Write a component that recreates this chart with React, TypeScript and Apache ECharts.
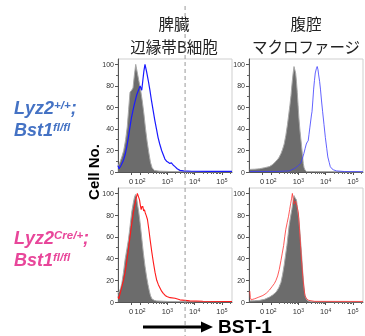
import React, { useEffect, useRef } from 'react';
import * as echarts from 'echarts';

// x values are in logicle display units (10^2 -> 2, 10^3 -> 3 ...), y = % of max
const xTickValues = [1.67, 2, 3, 4, 5];
const xTickLabels = ['0', '10^2', '10^3', '10^4', '10^5'];
const yTickValues = [0, 20, 40, 60, 80, 100];
const yMinorTicks = [10, 30, 50, 70, 90];
const gateValue = 3.65;

const spleenControl = [[1.19,5],[1.26,9],[1.33,14],[1.40,20],[1.47,30],[1.53,42],[1.58,58],[1.63,74],[1.69,76],[1.74,78],[1.79,90],[1.84,100],[1.90,92],[1.96,84],[2.02,76],[2.08,66],[2.14,54],[2.20,40],[2.26,28],[2.32,18],[2.38,9],[2.44,4],[2.52,1.5],[2.7,0.8],[3.2,0.4],[4.0,0.2],[5.37,0.2]];
const spleenWT = [[1.19,6],[1.23,3],[1.30,6],[1.39,11],[1.45,16],[1.51,23],[1.57,32],[1.63,42],[1.68,50],[1.73,56],[1.78,62],[1.83,67],[1.88,72],[1.94,76],[2.00,80],[2.06,76],[2.10,85],[2.14,94],[2.18,100],[2.24,93],[2.30,85],[2.36,76],[2.42,66],[2.48,57],[2.54,48],[2.60,40],[2.66,32],[2.72,26],[2.79,20],[2.85,16],[2.91,12],[2.97,10],[3.03,9],[3.09,8],[3.15,8.5],[3.21,6.5],[3.28,5],[3.36,3],[3.46,1.5],[3.6,1],[3.9,0.7],[4.5,0.5],[5.37,0.5]];
const peritonealControl = [[1.22,2.4],[1.40,2.6],[1.58,3],[1.76,4],[1.94,5],[2.06,7],[2.18,10],[2.28,13],[2.36,17],[2.42,21],[2.48,26],[2.54,34],[2.60,44],[2.65,54],[2.69,62],[2.73,71],[2.76,80],[2.80,90],[2.84,98],[2.87,95],[2.90,92],[2.93,84],[2.96,74],[2.99,62],[3.02,50],[3.06,38],[3.11,26],[3.15,16],[3.18,8],[3.21,4],[3.24,2],[3.30,0.5],[5.37,0]];
const peritonealWT = [[1.22,0.5],[2.2,0.5],[2.5,0.8],[2.66,1],[2.80,2.5],[2.90,4],[3.00,6],[3.08,8],[3.14,12],[3.20,17],[3.25,22],[3.29,26],[3.33,28],[3.36,29],[3.39,35],[3.42,41],[3.48,53],[3.50,56],[3.53,66],[3.56,77],[3.59,85],[3.62,92],[3.66,96],[3.69,98],[3.72,95],[3.74,91],[3.78,84],[3.81,77],[3.85,66],[3.89,56],[3.94,44],[3.99,32],[4.04,22],[4.08,14],[4.13,9],[4.17,5],[4.23,3],[4.29,2],[4.4,1],[4.7,0.4],[5.37,0.3]];
const spleenControl2 = [[1.19,8],[1.24,10],[1.29,13],[1.33,17],[1.39,27],[1.45,39],[1.51,48],[1.57,57],[1.62,67],[1.66,76],[1.70,84],[1.75,91],[1.79,96],[1.83,99],[1.87,96],[1.90,91],[1.95,83],[2.00,73],[2.06,59],[2.12,45],[2.18,33],[2.24,23],[2.29,16],[2.34,10],[2.38,6],[2.43,3],[2.52,1.5],[2.61,1],[3.0,0.5],[5.37,0.3]];
const spleenCKO = [[1.19,5],[1.22,3],[1.25,6],[1.29,10],[1.33,14],[1.39,20],[1.45,27],[1.51,37],[1.57,48],[1.63,60],[1.70,73],[1.76,83],[1.82,91],[1.86,96],[1.90,100],[1.94,97],[1.98,94],[2.01,89],[2.04,85],[2.07,88],[2.10,88],[2.13,84],[2.16,85],[2.19,82],[2.22,80],[2.27,76],[2.32,67],[2.37,57],[2.43,46],[2.49,36],[2.55,27],[2.61,20],[2.67,16],[2.73,13],[2.79,10],[2.85,8],[2.92,6],[2.98,5],[3.10,4],[3.28,3.4],[3.46,2],[3.64,1.5],[3.82,1],[4.3,0.7],[5.37,0.5]];
const peritonealControl2 = [[1.22,1],[1.40,1.2],[1.58,1.5],[1.76,2.5],[1.94,4.5],[2.06,6.5],[2.18,9],[2.28,13],[2.36,18],[2.42,25],[2.48,34],[2.53,43],[2.58,52],[2.62,61],[2.66,70],[2.71,78],[2.76,85],[2.80,92],[2.84,98],[2.88,96],[2.93,94],[2.97,86],[3.02,76],[3.07,60],[3.12,43],[3.16,28],[3.20,15],[3.23,8],[3.26,4.5],[3.31,2],[3.36,1],[3.5,0.3],[5.37,0]];
const peritonealCKO = [[1.22,10],[1.24,4],[1.27,2],[1.33,2.5],[1.40,3],[1.55,4.5],[1.70,6],[1.82,8],[1.94,11],[2.03,14],[2.12,17],[2.18,20],[2.24,24],[2.30,30],[2.36,38],[2.41,45],[2.46,52],[2.50,60],[2.54,67],[2.59,73],[2.64,79],[2.68,85],[2.72,91],[2.75,95],[2.78,100],[2.81,95],[2.84,90],[2.87,92],[2.90,93],[2.95,88],[3.00,82],[3.04,68],[3.08,52],[3.12,37],[3.17,21],[3.21,12],[3.24,6],[3.30,3],[3.38,1.5],[3.6,0.6],[5.37,0.5]];

const X_MIN = 1.19;
const X_MAX = 5.37;
const FONT = '"Liberation Sans", Arial, sans-serif';
const CJK = '"Noto Sans CJK JP", sans-serif';

const minorX: number[] = [];
for (let d = 2; d <= 5; d++) {
  for (let k = 2; k <= 9; k++) {
    const v = d + Math.log10(k);
    if (v < X_MAX) minorX.push(v);
  }
}

const grids = [
  { left: 118, top: 59, width: 114, height: 113 },
  { left: 249, top: 59, width: 114, height: 113 },
  { left: 118, top: 188, width: 114, height: 114 },
  { left: 249, top: 188, width: 114, height: 114 },
];

function labelFor(v: number) {
  let best = 0;
  xTickValues.forEach((t, i) => {
    if (Math.abs(t - v) < Math.abs(xTickValues[best] - v)) best = i;
  });
  const l = xTickLabels[best];
  if (l.indexOf('^') >= 0) {
    const [b, e] = l.split('^');
    return `{b|${b}}{s|${e}}`;
  }
  return `{b|${l}}`;
}

export default function App() {
  const ref = useRef<HTMLDivElement>(null);
  useEffect(() => {
    if (!ref.current) return;
    const chart = echarts.init(ref.current, undefined, { renderer: 'svg' });
    const xAxis: any[] = [];
    const yAxis: any[] = [];
    grids.forEach((_, g) => {
      xAxis.push({
        type: 'value', gridIndex: g, min: X_MIN, max: X_MAX, position: 'bottom',
        axisLine: { show: true, lineStyle: { color: '#555', width: 1 } },
        axisTick: { show: true, customValues: xTickValues, length: 3, lineStyle: { color: '#555' } },
        axisLabel: {
          show: true, customValues: xTickValues, margin: 5,
          formatter: (v: number) => labelFor(v),
          rich: {
            b: { fontSize: 7.5, color: '#333', fontFamily: FONT, verticalAlign: 'bottom' },
            s: { fontSize: 5, color: '#333', fontFamily: FONT, verticalAlign: 'top' },
          },
        },
        splitLine: { show: false },
      });
      xAxis.push({
        type: 'value', gridIndex: g, min: X_MIN, max: X_MAX, position: 'bottom',
        axisLine: { show: false },
        axisTick: { show: true, customValues: minorX, length: 2, lineStyle: { color: '#666' } },
        axisLabel: { show: false },
        splitLine: { show: false },
      });
      yAxis.push({
        type: 'value', gridIndex: g, min: 0, max: 105, position: 'left',
        axisLine: { show: true, lineStyle: { color: '#555', width: 1 } },
        axisTick: { show: true, customValues: yTickValues, length: 3, lineStyle: { color: '#555' } },
        axisLabel: { show: true, customValues: yTickValues, fontSize: 7, color: '#333', fontFamily: FONT, margin: 4 },
        splitLine: { show: false },
      });
      yAxis.push({
        type: 'value', gridIndex: g, min: 0, max: 105, position: 'left',
        axisLine: { show: false },
        axisTick: { show: true, customValues: yMinorTicks, length: 2, lineStyle: { color: '#666' } },
        axisLabel: { show: false },
        splitLine: { show: false },
      });
    });

    const fill = (g: number, data: number[][]) => ({
      type: 'line', xAxisIndex: 2 * g, yAxisIndex: 2 * g, data, symbol: 'none', z: 2,
      lineStyle: { color: '#a8a8a8', width: 1 },
      areaStyle: { color: '#6c6c6c', opacity: 1 },
    });
    const line = (g: number, data: number[][], color: string, width: number) => ({
      type: 'line', xAxisIndex: 2 * g, yAxisIndex: 2 * g, data, symbol: 'none', z: 3,
      lineStyle: { color, width },
    });

    chart.setOption({
      animation: false,
      grid: grids.map((gr) => ({ ...gr, show: true, borderColor: '#cfcfcf', borderWidth: 1, backgroundColor: 'transparent' })),
      xAxis,
      yAxis,
      series: [
        fill(0, spleenControl), line(0, spleenWT, '#1a1aff', 1.2),
        fill(1, peritonealControl), line(1, peritonealWT, '#3a3aff', 0.8),
        fill(2, spleenControl2), line(2, spleenCKO, '#ff1a1a', 1.1),
        fill(3, peritonealControl2), line(3, peritonealCKO, '#ff3030', 0.8),
      ],
    });

    const gx = chart.convertToPixel({ xAxisIndex: 0 }, gateValue) as number;
    const titleStyle = { fill: '#222', fontSize: 15.5, lineHeight: 23, fontFamily: CJK, align: 'center', verticalAlign: 'middle' };
    const richLabel = (color: string) => ({
      m: { fontSize: 18, fontWeight: 'bold', fontStyle: 'italic', fill: color, fontFamily: FONT, verticalAlign: 'bottom' },
      s: { fontSize: 11.5, fontWeight: 'bold', fontStyle: 'italic', fill: color, fontFamily: FONT, verticalAlign: 'top' },
    });
    const blue = '#4472c4';
    const pink = '#e8469a';
    chart.setOption({
      graphic: [
        { type: 'line', z: 10, shape: { x1: gx, y1: 6, x2: gx, y2: 336 }, style: { stroke: '#9a9a9a', lineWidth: 1, lineDash: [4, 3] } },
        { type: 'text', x: 174, y: 34, style: { ...titleStyle, text: '脾臓\n辺縁帯B細胞' } },
        { type: 'text', x: 306, y: 34, style: { ...titleStyle, text: '腹腔\nマクロファージ' } },
        { type: 'text', x: 14, y: 108, style: { text: '{m|Lyz2}{s|+/+}{m|;}', rich: richLabel(blue), verticalAlign: 'middle' } },
        { type: 'text', x: 14, y: 130, style: { text: '{m|Bst1}{s|fl/fl}', rich: richLabel(blue), verticalAlign: 'middle' } },
        { type: 'text', x: 14, y: 238, style: { text: '{m|Lyz2}{s|Cre/+}{m|;}', rich: richLabel(pink), verticalAlign: 'middle' } },
        { type: 'text', x: 14, y: 260, style: { text: '{m|Bst1}{s|fl/fl}', rich: richLabel(pink), verticalAlign: 'middle' } },
        { type: 'text', x: 93, y: 172, rotation: Math.PI / 2, style: { text: 'Cell No.', fontSize: 15, fontWeight: 'bold', fill: '#000', fontFamily: FONT, align: 'center', verticalAlign: 'middle' } },
        { type: 'line', shape: { x1: 143, y1: 327, x2: 204, y2: 327 }, style: { stroke: '#000', lineWidth: 3 } },
        { type: 'polygon', shape: { points: [[201, 321.5], [213, 327], [201, 332.5]] }, style: { fill: '#000' } },
        { type: 'text', x: 218, y: 326, style: { text: 'BST-1', fontSize: 19, fontWeight: 'bold', fill: '#000', fontFamily: FONT, verticalAlign: 'middle' } },
      ],
    });
    return () => chart.dispose();
  }, []);
  return <div ref={ref} style={{ position: 'fixed', left: 0, top: 0, width: 365, height: 336 }} />;
}
